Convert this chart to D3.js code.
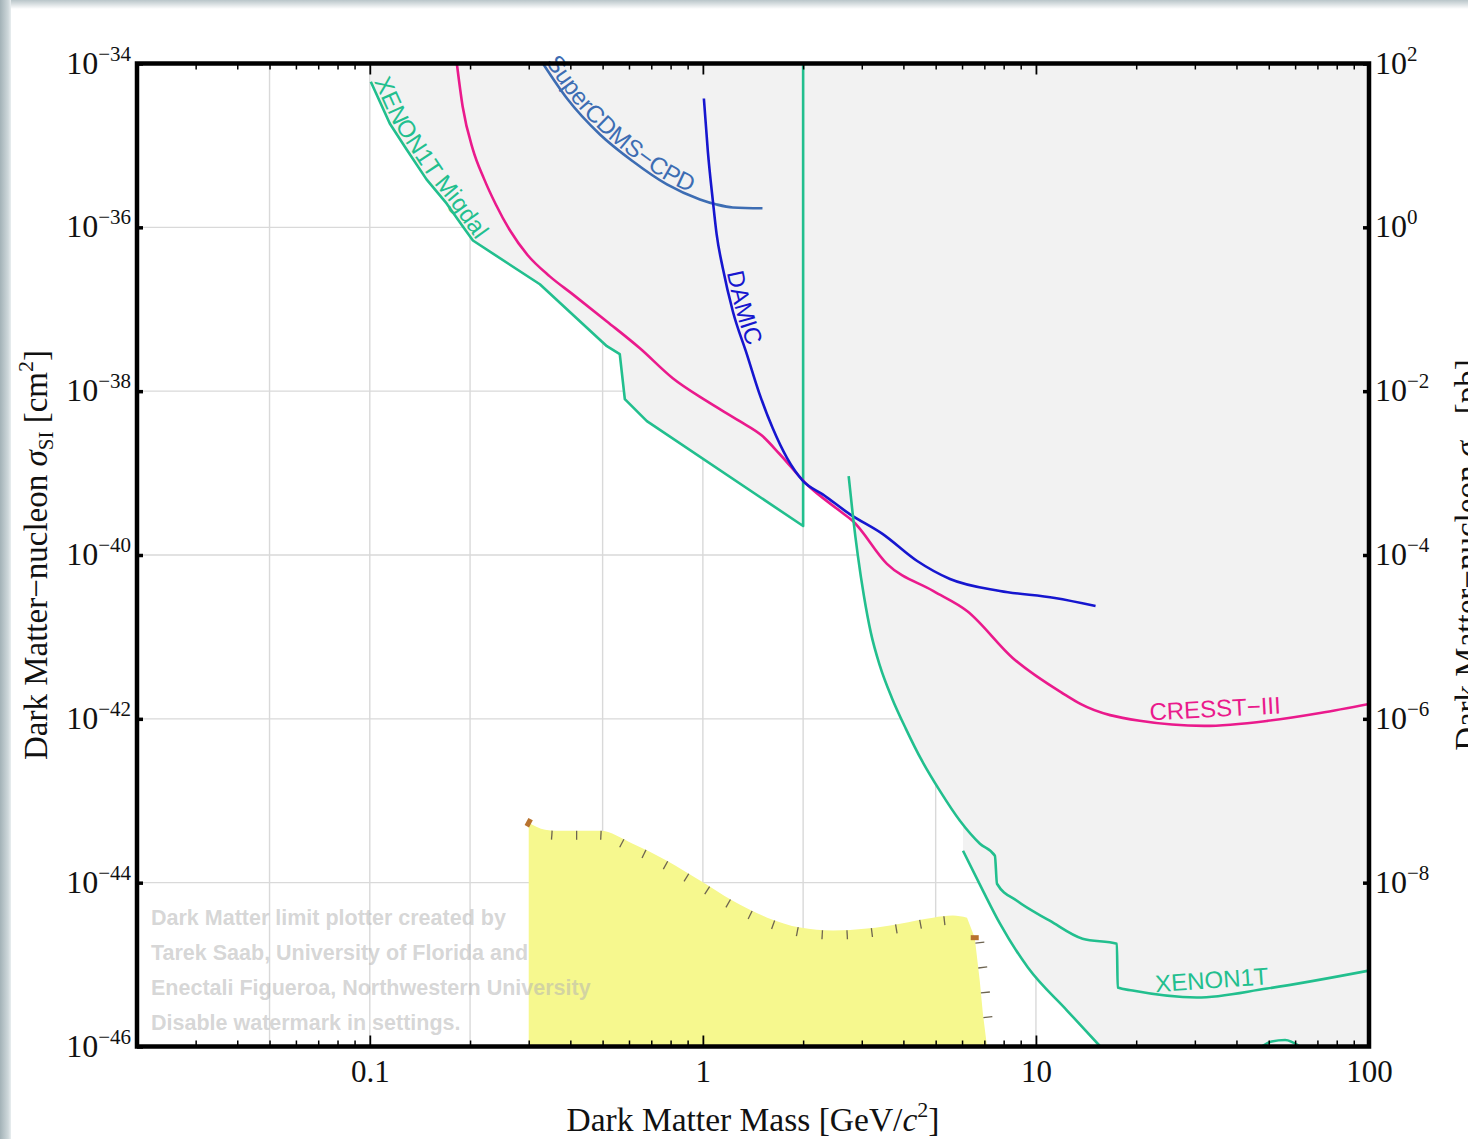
<!DOCTYPE html>
<html>
<head>
<meta charset="utf-8">
<title>Dark matter limits</title>
<script src="https://cdn.jsdelivr.net/npm/d3@7/dist/d3.min.js"></script>
<style>
  html, body { margin: 0; padding: 0; background: #fff; overflow: hidden; }
  svg { display: block; }
</style>
</head>
<body>
<svg id="chart" width="1468" height="1139"></svg>
<script>
// ---- data: mass in GeV/c^2, cross-section in cm^2 ----
const massLabels = [0.1, 1, 10, 100];
const massGrid = [0.05, 0.1, 0.2, 0.5, 1, 2, 5, 10, 20, 50];
const sigmaLabelExp = [-34, -36, -38, -40, -42, -44, -46];
const pbLabelExp = [2, 0, -2, -4, -6, -8];
const sigmaGridExp = [-36, -38, -40, -42, -44];

const xenonMigdal = [
    [0.1007, 6.0e-35], [0.1148, 1.85e-35], [0.129, 8.9e-36], [0.148, 3.85e-36],
    [0.170, 1.96e-36], [0.190, 1.03e-36], [0.204, 6.9e-37], [0.324, 2.02e-37],
    [0.515, 3.54e-38], [0.563, 2.83e-38], [0.583, 7.98e-39], [0.679, 4.3e-39],
    [2.0, 2.26e-40], [2.0, 1e-34]
];
const cresst = [
    [0.1825, 1e-34], [0.190, 2.99e-35], [0.204, 8.9e-36], [0.220, 3.96e-36],
    [0.239, 1.9e-36], [0.2634, 9.2e-37], [0.298, 4.56e-37], [0.347, 2.52e-37],
    [0.407, 1.52e-37], [0.515, 7.1e-38], [0.647, 3.34e-38], [0.812, 1.44e-38],
    [1.028, 7.55e-39], [1.29, 4.3e-39], [1.51, 2.83e-39], [1.70, 1.71e-39],
    [2.05, 7.3e-40], [2.58, 3.44e-40], [2.82, 2.6e-40], [3.57, 7.8e-41],
    [4.91, 3.64e-41], [6.21, 2.07e-41], [8.53, 5.5e-42], [12.1, 2.02e-42],
    [13.6, 1.52e-42], [20.5, 9.46e-43], [32.0, 8.2e-43], [49.7, 9.46e-43],
    [71.3, 1.18e-42], [100, 1.52e-42]
];
const damic = [
    [1.007, 3.74e-35], [1.035, 8.45e-36], [1.072, 2.07e-36], [1.10, 8.2e-37],
    [1.148, 3.16e-37], [1.23, 9.46e-38], [1.355, 2.83e-38], [1.48, 9.2e-39],
    [1.62, 3.54e-39], [1.79, 1.52e-39], [2.0, 7.98e-40], [2.29, 5.5e-40],
    [2.76, 3.16e-40], [3.47, 1.8e-40], [4.40, 8.45e-41], [5.52, 5.1e-41],
    [7.80, 3.64e-41], [11.4, 2.99e-41], [15.1, 2.39e-41]
];
const superCdms = [
    [0.331, 1.0e-34], [0.391, 3.74e-35], [0.491, 1.36e-35], [0.616, 6.4e-36],
    [0.780, 3.34e-36], [0.98, 2.19e-36], [1.10, 1.9e-36], [1.23, 1.75e-36],
    [1.51, 1.71e-36]
];
const xenon1t = [
    [2.74, 9.2e-40], [2.822, 2.99e-40], [2.921, 9.7e-41], [3.045, 3.16e-41],
    [3.195, 1.12e-41], [3.401, 4.43e-42], [3.694, 1.8e-42], [4.07, 7.55e-43],
    [4.547, 3.08e-43], [5.149, 1.32e-43], [5.913, 5.7e-44], [6.79, 2.99e-44],
    [7.53, 2.13e-44], [7.64, 9.7e-45], [8.77, 6.0e-45], [11.0, 3.44e-45],
    [13.8, 2.07e-45], [17.5, 1.8e-45], [17.6, 5.25e-46], [19.5, 4.82e-46],
    [30.4, 3.96e-46], [49.4, 5.1e-46], [100, 8.45e-46]
];
const xenon1tLow = [
    [6.04, 2.45e-44], [6.93, 8.0e-45], [7.80, 3.16e-45], [9.46, 9.2e-46],
    [12.4, 2.75e-46], [15.6, 1e-46]
];
const xenonTail = [[46, 9e-47], [51, 1.15e-46], [56, 1.2e-46], [62, 1e-46]];

// neutrino-floor style region: top edge left->right, right edge bottom->up
const floorTop = [
    [0.30, 5.4e-44], [0.336, 4.43e-44], [0.362, 4.3e-44], [0.491, 4.3e-44],
    [0.616, 2.99e-44], [0.78, 1.85e-44], [0.98, 1.06e-44], [1.23, 6.0e-45],
    [1.56, 3.74e-45], [1.96, 2.83e-45], [2.46, 2.6e-45], [3.11, 2.75e-45],
    [3.91, 3.16e-45], [4.91, 3.74e-45], [5.63, 3.96e-45], [6.21, 3.74e-45]
];
const floorEdge = [[7.13, 1e-46], [6.93, 2.52e-46], [6.78, 6.4e-46], [6.55, 2.13e-45]];

const curveLabels = [
    { text: "CRESST\u2212III", m: 22.0, s: 9.6e-43, angle: -3, color: "#ea1a8c" },
    { text: "XENON1T", m: 22.9, s: 4.6e-46, angle: -4, color: "#22bf8e" }
];
const watermarkLines = [
    "Dark Matter limit plotter created by",
    "Tarek Saab, University of Florida and",
    "Enectali Figueroa, Northwestern University",
    "Disable watermark in settings."
];

const GREEN = "#22bf8e", PINK = "#ea1a8c", DBLUE = "#1616cf", SBLUE = "#3d6db3";
const SERIF = "'Liberation Serif', 'Times New Roman', serif";
const SANS = "'Liberation Sans', Arial, sans-serif";

const W = 1468, H = 1139;
const plot = { left: 137, right: 1369, top: 63.5, bottom: 1046.5 };

const x = d3.scaleLog().domain([0.02, 100]).range([plot.left, plot.right]);
const y = d3.scaleLog().domain([1e-46, 1e-34]).range([plot.bottom, plot.top]);
const yPb = d3.scaleLog().domain([1e-10, 1e2]).range([plot.bottom, plot.top]);

const svg = d3.select("#chart");
const defs = svg.append("defs");

svg.append("rect").attr("width", W).attr("height", H).attr("fill", "#fff");

// screenshot edge (left + top shadow strip)
const gl = defs.append("linearGradient").attr("id", "edgeL").attr("x1", 0).attr("x2", 1).attr("y1", 0).attr("y2", 0);
gl.append("stop").attr("offset", "0%").attr("stop-color", "#a3b2b7");
gl.append("stop").attr("offset", "75%").attr("stop-color", "#cfd8db");
gl.append("stop").attr("offset", "100%").attr("stop-color", "#e9eef0");
const gt = defs.append("linearGradient").attr("id", "edgeT").attr("x1", 0).attr("x2", 0).attr("y1", 0).attr("y2", 1);
gt.append("stop").attr("offset", "0%").attr("stop-color", "#b9c5c9");
gt.append("stop").attr("offset", "100%").attr("stop-color", "#ffffff");
svg.append("rect").attr("x", 0).attr("y", 0).attr("width", W).attr("height", 9).attr("fill", "url(#edgeT)");
svg.append("rect").attr("x", 0).attr("y", 0).attr("width", 11).attr("height", H).attr("fill", "url(#edgeL)");

defs.append("clipPath").attr("id", "plotClip").append("rect")
    .attr("x", plot.left).attr("y", plot.top)
    .attr("width", plot.right - plot.left).attr("height", plot.bottom - plot.top);

const gPlot = svg.append("g").attr("clip-path", "url(#plotClip)");

// grid
gPlot.append("g").selectAll("line").data(massGrid).join("line")
    .attr("x1", d => x(d)).attr("x2", d => x(d))
    .attr("y1", plot.top).attr("y2", plot.bottom)
    .attr("stroke", "#d9d9d9").attr("stroke-width", 1.4);
gPlot.append("g").selectAll("line").data(sigmaGridExp).join("line")
    .attr("x1", plot.left).attr("x2", plot.right)
    .attr("y1", d => y(10 ** d)).attr("y2", d => y(10 ** d))
    .attr("stroke", "#d9d9d9").attr("stroke-width", 1.4);

// excluded region = area above the lowest limit curve
function logInterp(pts, m, floorAfter) {
    const first = pts[0][0], last = pts[pts.length - 1][0];
    if (m < first) return null;
    if (m > last) return floorAfter ? -46 : null;
    const lm = Math.log10(m);
    for (let i = 1; i < pts.length; i++) {
        if (m <= pts[i][0]) {
            const a = pts[i - 1], b = pts[i];
            const la = Math.log10(a[0]), lb = Math.log10(b[0]);
            if (lb === la) return Math.log10(Math.min(a[1], b[1]));
            const t = (lm - la) / (lb - la);
            return Math.log10(a[1]) + t * (Math.log10(b[1]) - Math.log10(a[1]));
        }
    }
    return null;
}
const limits = [
    { pts: xenonMigdal.slice(0, -1) },
    { pts: cresst }, { pts: damic }, { pts: superCdms }, { pts: xenon1t },
    { pts: xenon1tLow, floorAfter: true }
];
const m0 = xenonMigdal[0][0];
let samples = d3.range(0, 1201).map(i => 10 ** (Math.log10(m0) + i / 1200 * (2 - Math.log10(m0))));
limits.forEach(l => l.pts.forEach(p => samples.push(p[0], p[0] * 0.9999, p[0] * 1.0001)));
samples = samples.filter(m => m >= m0 && m <= 100).sort((a, b) => a - b);
const envelope = samples.map(m => {
    const vals = limits.map(l => logInterp(l.pts, m, l.floorAfter)).filter(v => v !== null);
    const v = vals.length ? Math.max(-46, Math.min(-34, d3.min(vals))) : -34;
    return [m, 10 ** v];
});
const exclusion = [[m0, 1e-34], ...envelope, [100, 1e-34]];

const line = d3.line().x(d => x(d[0])).y(d => y(d[1]));
gPlot.append("path").attr("d", line(exclusion) + "Z").attr("fill", "#f2f2f2");

// yellow region
const smooth = d3.line().x(d => x(d[0])).y(d => y(d[1])).curve(d3.curveMonotoneX);
const topD = smooth(floorTop);
const edgeD = line(floorEdge);
const floorD = topD + "L" + floorEdge.slice().reverse().map(d => `${x(d[0])},${y(d[1])}`).join("L")
    + `L${x(floorTop[0][0])},${y(1e-46)}Z`;
gPlot.append("path").attr("d", floorD).attr("fill", "#f6f88e");

function hatch(d, start, spacing, len) {
    const p = gPlot.append("path").attr("d", d).attr("fill", "none");
    const node = p.node(), L = node.getTotalLength();
    const out = [];
    for (let l = start; l < L - 4; l += spacing) {
        const a = node.getPointAtLength(Math.max(0, l - 1.5));
        const b = node.getPointAtLength(Math.min(L, l + 1.5));
        const c = node.getPointAtLength(l);
        let dx = b.x - a.x, dy = b.y - a.y;
        const n = Math.hypot(dx, dy) || 1;
        dx /= n; dy /= n;
        out.push({ x1: c.x, y1: c.y, x2: c.x - dy * len, y2: c.y + dx * len });
    }
    p.remove();
    return out;
}
const hatchData = hatch(topD, 25, 24.5, 9).concat(hatch(edgeD, 29, 25, 9));
gPlot.append("g").selectAll("line").data(hatchData).join("line")
    .attr("x1", d => d.x1).attr("y1", d => d.y1).attr("x2", d => d.x2).attr("y2", d => d.y2)
    .attr("stroke", "#6d6450").attr("stroke-width", 1.3);

// end markers of the floor contour
const ends = [floorTop[0], floorEdge[floorEdge.length - 1]];
gPlot.append("g").selectAll("rect").data(ends).join("rect")
    .attr("x", -4).attr("y", -2.5).attr("width", 8).attr("height", 5)
    .attr("transform", (d, i) => `translate(${x(d[0])},${y(d[1])}) rotate(${i === 0 ? -62 : 0})`)
    .attr("fill", "#b8732f");

// watermark
svg.append("g").selectAll("text").data(watermarkLines).join("text")
    .attr("x", 151).attr("y", (d, i) => 925 + i * 35)
    .attr("font-family", SANS).attr("font-weight", "bold").attr("font-size", 21.5)
    .attr("fill", "#b4b4b4").attr("fill-opacity", 0.55)
    .text(d => d);

// limit curves
const series = [
    { id: "c-migdal", pts: xenonMigdal, color: GREEN, curve: d3.curveLinear },
    { id: "c-cresst", pts: cresst, color: PINK, curve: d3.curveMonotoneX },
    { id: "c-supercdms", pts: superCdms, color: SBLUE, curve: d3.curveMonotoneX },
    { id: "c-damic", pts: damic, color: DBLUE, curve: d3.curveMonotoneX },
    { id: "c-xenon1t", pts: xenon1t, color: GREEN, curve: d3.curveMonotoneX },
    { id: "c-xenon1tlow", pts: xenon1tLow, color: GREEN, curve: d3.curveMonotoneX },
    { id: "c-tail", pts: xenonTail, color: GREEN, curve: d3.curveMonotoneX }
];
gPlot.append("g").selectAll("path").data(series).join("path")
    .attr("id", d => d.id)
    .attr("d", d => line.curve(d.curve)(d.pts))
    .attr("fill", "none").attr("stroke", d => d.color)
    .attr("stroke-width", 2.6).attr("stroke-linejoin", "round");
line.curve(d3.curveLinear);

// labels along curves
function offsetWhere(id, test) {
    const node = document.getElementById(id);
    const L = node.getTotalLength();
    for (let l = 0; l <= L; l += 0.5) if (test(node.getPointAtLength(l))) return l;
    return 0;
}
const gLab = svg.append("g").attr("font-family", SANS).attr("font-size", 24);
const pathLabels = [
    { id: "c-migdal", text: "XENON1T Migdal", color: GREEN, offset: 1 },
    { id: "c-supercdms", text: "SuperCDMS\u2212CPD", color: SBLUE, offset: 0 },
    { id: "c-damic", text: "DAMIC", color: DBLUE, offset: offsetWhere("c-damic", p => p.y >= 273) }
];
pathLabels.forEach(l => {
    gLab.append("text").attr("dy", -3).attr("fill", l.color)
        .append("textPath").attr("href", "#" + l.id).attr("startOffset", l.offset).text(l.text);
});
gLab.selectAll("text.flat").data(curveLabels).join("text").attr("class", "flat")
    .attr("transform", d => `translate(${x(d.m)},${y(d.s)}) rotate(${d.angle})`)
    .attr("fill", d => d.color).text(d => d.text);

// axes ticks (inward)
const gAx = svg.append("g");
const isDecade = d => Math.abs(Math.log10(d) - Math.round(Math.log10(d))) < 1e-6;
const minorMass = x.ticks().filter(d => !isDecade(d));
const styleTicks = (g, w) => {
    g.select(".domain").remove();
    g.selectAll(".tick line").attr("stroke", "#000").attr("stroke-width", w);
};
gAx.append("g").attr("transform", `translate(0,${plot.bottom})`)
    .call(d3.axisBottom(x).tickValues(minorMass).tickSize(-6).tickFormat(""))
    .call(g => styleTicks(g, 1.5));
gAx.append("g").attr("transform", `translate(0,${plot.top})`)
    .call(d3.axisTop(x).tickValues(minorMass).tickSize(-6).tickFormat(""))
    .call(g => styleTicks(g, 1.5));
gAx.append("g").attr("transform", `translate(0,${plot.top})`)
    .call(d3.axisTop(x).tickValues(massLabels).tickSize(-11).tickFormat(""))
    .call(g => styleTicks(g, 1.8));
gAx.append("g").attr("transform", `translate(0,${plot.bottom})`)
    .call(d3.axisBottom(x).tickValues(massLabels).tickSize(-11).tickPadding(13).tickFormat(d3.format("~g")))
    .call(g => styleTicks(g, 1.8))
    .attr("font-family", SERIF).attr("font-size", 31)
    .call(g => g.selectAll(".tick text").attr("fill", "#111"));
gAx.append("g").attr("transform", `translate(${plot.left},0)`)
    .call(d3.axisLeft(y).tickValues(sigmaLabelExp.map(e => 10 ** e)).tickSize(-6).tickFormat(""))
    .call(g => styleTicks(g, 3.5));
gAx.append("g").attr("transform", `translate(${plot.right},0)`)
    .call(d3.axisRight(yPb).tickValues(pbLabelExp.map(e => 10 ** e)).tickSize(-6).tickFormat(""))
    .call(g => styleTicks(g, 3.5));

// frame
svg.append("rect")
    .attr("x", plot.left).attr("y", plot.top)
    .attr("width", plot.right - plot.left).attr("height", plot.bottom - plot.top)
    .attr("fill", "none").attr("stroke", "#000").attr("stroke-width", 4.5);

// power-of-ten labels
const fmtExp = e => (e < 0 ? "\u2212" + (-e) : String(e));
function powerLabels(data, xPos, anchor, scale) {
    const t = svg.append("g").attr("font-family", SERIF).attr("font-size", 32).attr("fill", "#111")
        .selectAll("text").data(data).join("text")
        .attr("x", xPos).attr("y", d => scale(10 ** d) + 10).attr("text-anchor", anchor);
    t.append("tspan").text("10");
    t.append("tspan").attr("font-size", 21).attr("dy", -13).text(d => fmtExp(d));
}
powerLabels(sigmaLabelExp, 131, "end", y);
powerLabels(pbLabelExp, 1375, "start", yPb);

// axis titles
const xt = svg.append("text").attr("x", 753).attr("y", 1131).attr("text-anchor", "middle")
    .attr("font-family", SERIF).attr("font-size", 33.5).attr("fill", "#111");
xt.append("tspan").text("Dark Matter Mass [GeV/");
xt.append("tspan").attr("font-style", "italic").text("c");
xt.append("tspan").attr("font-size", 22).attr("dy", -14).text("2");
xt.append("tspan").attr("dy", 14).text("]");

function sigmaTitle(tx, unit, sup) {
    const t = svg.append("text").attr("transform", `translate(${tx},555) rotate(-90)`)
        .attr("text-anchor", "middle").attr("font-family", SERIF).attr("font-size", 33).attr("fill", "#111");
    t.append("tspan").text("Dark Matter\u2212nucleon ");
    t.append("tspan").attr("font-style", "italic").text("\u03c3");
    t.append("tspan").attr("font-size", 21).attr("dy", 6).text("SI");
    t.append("tspan").attr("dy", -6).text(" [" + unit);
    if (sup) {
        t.append("tspan").attr("font-size", 22).attr("dy", -14).text(sup);
        t.append("tspan").attr("dy", 14).text("]");
    } else {
        t.append("tspan").text("]");
    }
}
sigmaTitle(47, "cm", "2");
sigmaTitle(1478, "pb", null);
</script>
</body>
</html>
